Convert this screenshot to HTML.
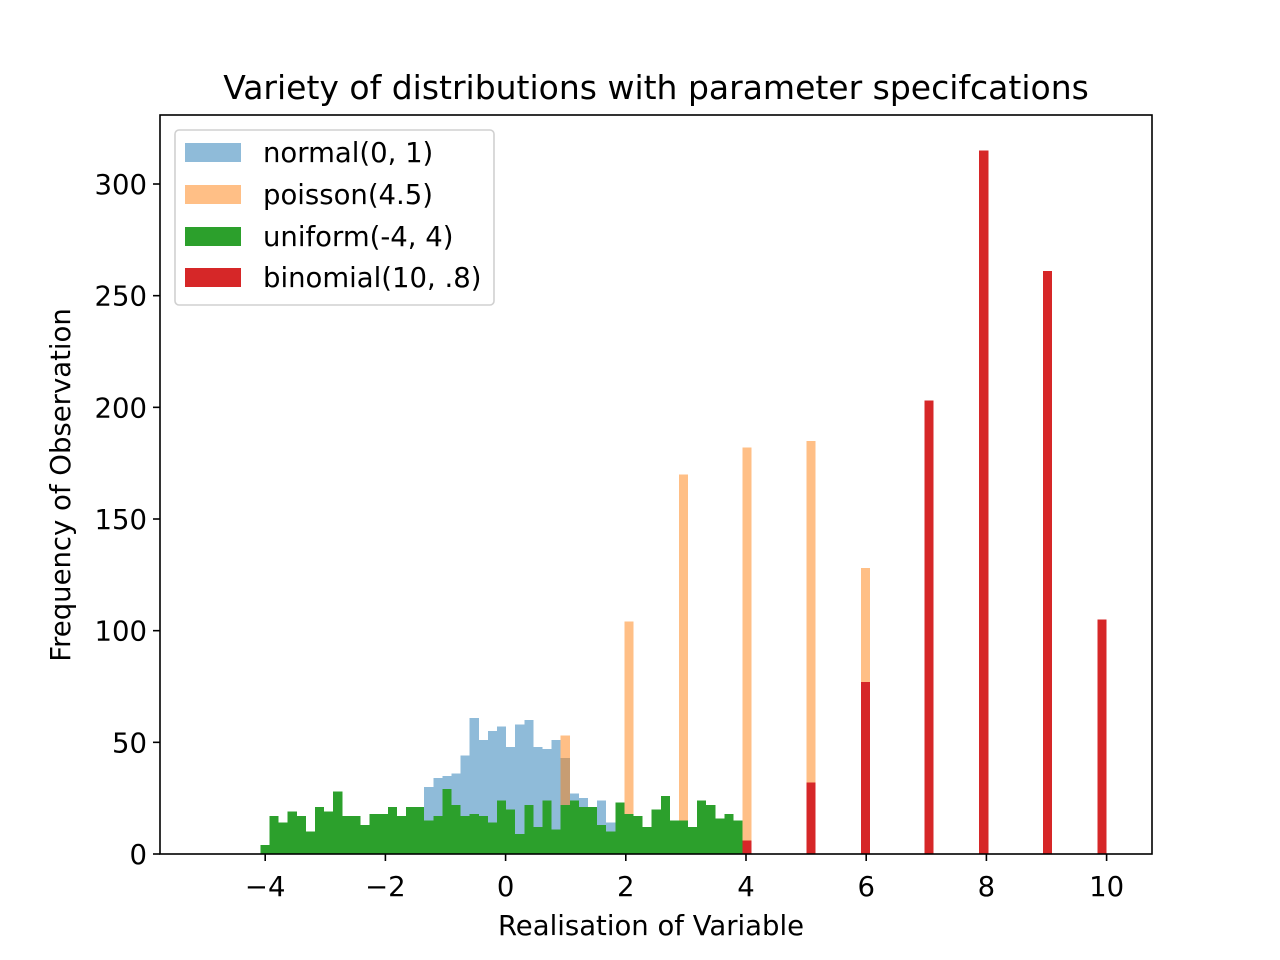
<!DOCTYPE html>
<html><head><meta charset="utf-8"><style>
html,body{margin:0;padding:0;background:#fff;}
svg{display:block;font-family:"DejaVu Sans","Liberation Sans",sans-serif;}
</style></head><body>
<svg id="chart" width="1280" height="960" viewBox="0 0 1280 960">
<rect x="0" y="0" width="1280" height="960" fill="#fff"/>
<text x="656" y="99" font-size="33" text-anchor="middle" fill="#000">Variety of distributions with parameter specifcations</text>
<g id="bars" shape-rendering="crispEdges"></g>
<g id="axes"></g>
<text x="651" y="935" font-size="27.5" text-anchor="middle">Realisation of Variable</text>
<text x="70" y="485" font-size="27.5" text-anchor="middle" transform="rotate(-90 70 485)">Frequency of Observation</text>
<g>
<rect x="175" y="130" width="319" height="175" rx="4" fill="#fff" fill-opacity="0.8" stroke="#d0d0d0" stroke-width="1.6"/>
<g><rect x="185" y="143" width="56" height="19" fill="#8fbbd9"/><text x="263" y="162" font-size="27.5">normal(0, 1)</text></g>
<g><rect x="185" y="185" width="56" height="19" fill="#ffbf86"/><text x="263" y="204" font-size="27.5">poisson(4.5)</text></g>
<g><rect x="185" y="227" width="56" height="19" fill="#2ca02c"/><text x="263" y="246" font-size="27.5">uniform(-4, 4)</text></g>
<g><rect x="185" y="268" width="56" height="19" fill="#d62728"/><text x="263" y="287" font-size="27.5">binomial(10, .8)</text></g>
</g>
</svg>
<script>
// bin layout
var binStart = -4.08;
var binWidth = 0.1514;
// counts by bin index (bin k spans binStart + k*binWidth)
var normalBins = [18,19,20,21,22,23,24,25,26,27,28,29,30,31,32,33,34,35,36,37,38];
var normalCounts = [30,34,35,36,44,61,51,55,57,48,58,60,48,47,51,43,27,25,20,24,14];
var poissonBins = [33,40,46,53,60,66,73,79];
var poissonCounts = [53,104,170,182,185,128,80,40];
var uniformCounts = [4,17,14,19,17,10,21,19,28,17,17,13,18,18,21,17,21,21,15,17,29,22,17,18,17,14,24,20,9,22,12,24,11,22,24,21,21,13,10,23,18,17,12,20,26,15,15,12,24,22,16,18,15];
var binomialBins = [53,60,66,73,79,86,92];
var binomialCounts = [6,32,77,203,315,261,105];
var xTicks = [-4,-2,0,2,4,6,8,10];
var yTicks = [0,50,100,150,200,250,300];

var L=160,R=1152,T=115,B=854;
function xs(v){return 505.6+60.1*v;}
function ys(v){return B-2.2333*v;}
var NS='http://www.w3.org/2000/svg';
var barsG=document.getElementById('bars');
var axesG=document.getElementById('axes');
function bar(k,c,fill,name){
  var x0=xs(binStart+k*binWidth), x1=xs(binStart+(k+1)*binWidth);
  var r=document.createElementNS(NS,'rect');
  r.setAttribute('x',x0);r.setAttribute('width',x1-x0);
  r.setAttribute('y',ys(c));r.setAttribute('height',B-ys(c));
  r.setAttribute('fill',fill);
  
  
  barsG.appendChild(r);
}
normalBins.forEach(function(k,i){bar(k,normalCounts[i],'rgba(31,119,180,0.5)','bar-normal');});
poissonBins.forEach(function(k,i){bar(k,poissonCounts[i],'rgba(255,127,14,0.5)','bar-poisson');});
uniformCounts.forEach(function(c,k){bar(k,c,'#2ca02c','bar-uniform');});
binomialBins.forEach(function(k,i){bar(k,binomialCounts[i],'#d62728','bar-binomial');});

var frame=document.createElementNS(NS,'rect');
frame.setAttribute('x',L);frame.setAttribute('y',T);frame.setAttribute('width',R-L);frame.setAttribute('height',B-T);
frame.setAttribute('fill','none');frame.setAttribute('stroke','#000');frame.setAttribute('stroke-width','1.6');


axesG.appendChild(frame);
xTicks.forEach(function(v){
  var x=xs(v);
  var l=document.createElementNS(NS,'line');
  l.setAttribute('x1',x);l.setAttribute('x2',x);l.setAttribute('y1',B);l.setAttribute('y2',B+7);
  l.setAttribute('stroke','#000');l.setAttribute('stroke-width','1.6');
  
  
  axesG.appendChild(l);
  var t=document.createElementNS(NS,'text');
  t.setAttribute('x',x);t.setAttribute('y',B+42);t.setAttribute('font-size','27.5');t.setAttribute('text-anchor','middle');
  t.textContent=(v<0?'\u2212'+(-v):String(v));
  
  
  axesG.appendChild(t);
});
yTicks.forEach(function(v){
  var y=ys(v);
  var l=document.createElementNS(NS,'line');
  l.setAttribute('x1',L-7);l.setAttribute('x2',L);l.setAttribute('y1',y);l.setAttribute('y2',y);
  l.setAttribute('stroke','#000');l.setAttribute('stroke-width','1.6');
  
  
  axesG.appendChild(l);
  var t=document.createElementNS(NS,'text');
  t.setAttribute('x',L-13);t.setAttribute('y',y+10);t.setAttribute('font-size','27.5');t.setAttribute('text-anchor','end');
  t.textContent=String(v);
  
  
  axesG.appendChild(t);
});
</script>
</body></html>
